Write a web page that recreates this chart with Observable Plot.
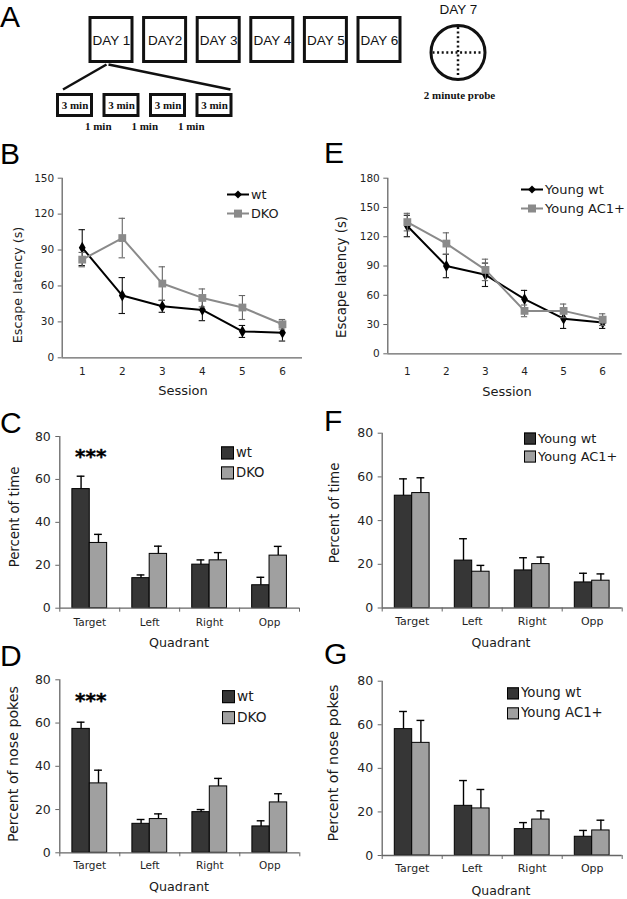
<!DOCTYPE html>
<html><head><meta charset="utf-8">
<script src="https://cdn.jsdelivr.net/npm/d3@7"></script>
<script src="https://cdn.jsdelivr.net/npm/@observablehq/plot@0.6"></script>
<style>
body{margin:0;background:#fff;}
#fig{position:relative;width:627px;height:899px;overflow:hidden;font-family:"DejaVu Sans",Verdana,sans-serif;color:#1a1a1a;background:#fff;}
.abs{position:absolute;white-space:nowrap;line-height:1;}
.letter{font-family:"Liberation Sans",Arial,sans-serif;font-size:30px;line-height:34px;color:#000;}
.ytitle{transform:translate(-50%,-50%) rotate(-90deg);}
.xtitle{transform:translate(-50%,-50%);}
.leg{display:flex;align-items:center;transform:translateY(-50%);}
</style></head><body><div id="fig"></div>
<script>
// ---------------- DATA ----------------
// Panel A (protocol schematic)
const dayLabels = ["DAY 1", "DAY2", "DAY 3", "DAY 4", "DAY 5", "DAY 6"];
const trialLabels = ["3 min", "3 min", "3 min", "3 min"];
const intervalLabels = ["1 min", "1 min", "1 min"];
const probeDayLabel = "DAY 7";
const probeLabel = "2 minute probe";

// Panels B / E (escape latency, s)
const sessions = [1, 2, 3, 4, 5, 6];
const latencyTicks = { B: [0, 30, 60, 90, 120, 150], E: [0, 30, 60, 90, 120, 150, 180] };
const wtLatency = [92, 52, 43, 40, 22, 21];
const wtLatencyErr = [15, 15, 5, 9, 5, 7];
const dkoLatency = [82, 100, 62, 50, 42, 28];
const dkoLatencyErr = [6, 16.5, 14, 7.5, 10, 4];
const youngWtLatency = [131, 90, 81, 56, 36, 32];
const youngWtLatencyErr = [11, 12, 12, 9, 10, 6];
const youngAc1Latency = [135, 113, 86, 44, 44, 35];
const youngAc1LatencyErr = [9, 11, 11, 6, 7, 6];

// Panels C / D / F / G (probe trial, %)
const quadrants = ["Target", "Left", "Right", "Opp"];
const percentTicks = [0, 20, 40, 60, 80];
const wtTime = [55.5, 14, 20.3, 10.7];
const wtTimeErr = [6, 1.5, 2.2, 3.7];
const dkoTime = [30.4, 25.3, 22.3, 24.5];
const dkoTimeErr = [4, 3.6, 3.6, 4.3];
const wtPokes = [57.3, 13.4, 18.8, 12.2];
const wtPokesErr = [3.1, 2, 1.2, 2.6];
const dkoPokes = [32.1, 15.6, 30.7, 23.3];
const dkoPokesErr = [6.1, 2.4, 3.7, 4];
const youngWtTime = [51.4, 21.7, 17.2, 11.7];
const youngWtTimeErr = [7.7, 10, 5.8, 4.2];
const youngAc1Time = [52.6, 16.6, 20.1, 12.5];
const youngAc1TimeErr = [7, 2.9, 3.2, 3.1];
const youngWtPokes = [58, 22.8, 12.1, 8.6];
const youngWtPokesErr = [8.1, 11.6, 3, 2.9];
const youngAc1Pokes = [51.7, 21.6, 16.5, 11.5];
const youngAc1PokesErr = [10.3, 8.7, 4, 4.7];
const significance = [{ quadrant: 0, y: 70.5, label: "***" }];

// ---------------- STYLE ----------------
const AXIS = "#666";
const TEXT = "#1f1f1f";
const DARK = "#363636";
const LIGHT = "#a0a0a0";
const GREYLINE = "#8a8a8a";

const fig = document.getElementById("fig");
function place(el, left, top) {
  el.style.position = "absolute";
  el.style.left = left + "px";
  el.style.top = top + "px";
  el.style.maxWidth = "none";
  fig.appendChild(el);
}
function addText(cls, text, x, y, css) {
  const d = document.createElement("div");
  d.className = "abs " + cls;
  d.textContent = text;
  d.style.left = x + "px";
  d.style.top = y + "px";
  Object.assign(d.style, css || {});
  fig.appendChild(d);
  return d;
}
function lineLegend(x, y, color, symbol, label, fs) {
  const d = document.createElement("div");
  d.className = "abs leg";
  d.style.left = x + "px"; d.style.top = y + "px"; d.style.fontSize = fs + "px";
  const ns = "http://www.w3.org/2000/svg";
  const s = document.createElementNS(ns, "svg");
  s.setAttribute("width", 22); s.setAttribute("height", 10);
  s.style.marginRight = "2px";
  const l = document.createElementNS(ns, "line");
  l.setAttribute("x1", 0); l.setAttribute("x2", 22); l.setAttribute("y1", 5); l.setAttribute("y2", 5);
  l.setAttribute("stroke", color); l.setAttribute("stroke-width", 2);
  s.appendChild(l);
  const m = document.createElementNS(ns, symbol === "diamond" ? "polygon" : "rect");
  if (symbol === "diamond") m.setAttribute("points", "11,1 15,5 11,9 7,5");
  else { m.setAttribute("x", 7); m.setAttribute("y", 1); m.setAttribute("width", 8); m.setAttribute("height", 8); }
  m.setAttribute("fill", color);
  s.appendChild(m);
  d.appendChild(s);
  d.appendChild(document.createTextNode(label));
  fig.appendChild(d);
}
function barLegend(x, y, fill, label, fs, size) {
  const d = document.createElement("div");
  d.className = "abs leg";
  d.style.left = x + "px"; d.style.top = y + "px"; d.style.fontSize = fs + "px";
  const sw = document.createElement("span");
  sw.style.cssText = `display:inline-block;width:${size}px;height:${size}px;box-sizing:border-box;border:1px solid #000;background:${fill};margin-right:2px;`;
  d.appendChild(sw);
  d.appendChild(document.createTextNode(label));
  fig.appendChild(d);
}

// ---------------- PANEL A ----------------
(function () {
  const dayCx = i => 111 + i * 53.6;
  const trialCx = j => 74.5 + j * 46.5;
  const days = dayLabels.map((t, i) => ({ t, cx: dayCx(i) }));
  const trials = trialLabels.map((t, j) => ({ t, cx: trialCx(j) }));
  const gaps = intervalLabels.map((t, j) => ({ t, cx: (trialCx(j) + trialCx(j + 1)) / 2 }));
  const probe = [{ cx: 457.5, cy: 52 }];
  const fans = [
    { x1: dayCx(0) - 5, y1: 64, x2: trialCx(0) - 12, y2: 89 },
    { x1: dayCx(0) - 3, y1: 64, x2: trialCx(3) + 16, y2: 89 }
  ];
  const el = Plot.plot({
    width: 627, height: 140, margin: 0,
    x: { domain: [0, 627], range: [0, 627], axis: null },
    y: { domain: [0, 140], range: [0, 140], axis: null },
    style: { background: "transparent", overflow: "visible" },
    marks: [
      Plot.rect(days, { x1: d => d.cx - 21, x2: d => d.cx + 21, y1: () => 17.5, y2: () => 61.5, fill: "white", stroke: "#111", strokeWidth: 3 }),
      Plot.text(days, { x: "cx", y: () => 40, text: "t", fontSize: 13.5, fontFamily: "Liberation Sans, Arial, sans-serif", fill: "#111" }),
      Plot.link(fans, { x1: "x1", y1: "y1", x2: "x2", y2: "y2", stroke: "#111", strokeWidth: 2.5 }),
      Plot.rect(trials, { x1: d => d.cx - 17, x2: d => d.cx + 17, y1: () => 94.5, y2: () => 115.5, fill: "white", stroke: "#111", strokeWidth: 3 }),
      Plot.text(trials, { x: "cx", y: () => 105, text: "t", fontSize: 11, fontWeight: "bold", fontFamily: "Liberation Serif, Times New Roman, serif", fill: "#111" }),
      Plot.text(gaps, { x: "cx", y: () => 126, text: "t", fontSize: 11, fontWeight: "bold", fontFamily: "Liberation Serif, Times New Roman, serif", fill: "#111" }),
      Plot.dot(probe, { x: "cx", y: "cy", r: 27, stroke: "#111", strokeWidth: 3, fill: "white" }),
      Plot.ruleY(probe, { y: "cy", x1: d => d.cx - 25, x2: d => d.cx + 25, stroke: "#111", strokeWidth: 2.5, strokeDasharray: "2,2.6" }),
      Plot.ruleX(probe, { x: "cx", y1: d => d.cy - 25, y2: d => d.cy + 25, stroke: "#111", strokeWidth: 2.5, strokeDasharray: "2,2.6" }),
      Plot.text([probeDayLabel], { x: () => 458, y: () => 9, fontSize: 13.5, fontFamily: "Liberation Sans, Arial, sans-serif", fill: "#111" }),
      Plot.text([probeLabel], { x: () => 459, y: () => 95, fontSize: 11, fontWeight: "bold", fontFamily: "Liberation Serif, Times New Roman, serif", fill: "#111" })
    ]
  });
  place(el, 0, 0);
})();

// ---------------- LINE PANELS ----------------
function linePanel(o) {
  const marks = [];
  const cap = 0.08;
  o.series.forEach(s => {
    const d = sessions.map((x, i) => ({ x, y: s.values[i], e: s.errs[i] }));
    marks.push(Plot.ruleX(d, { x: "x", y1: r => r.y - r.e, y2: r => r.y + r.e, stroke: s.err, strokeWidth: 1.1 }));
    marks.push(Plot.ruleY(d, { y: r => r.y - r.e, x1: r => r.x - cap, x2: r => r.x + cap, stroke: s.err, strokeWidth: 1.1 }));
    marks.push(Plot.ruleY(d, { y: r => r.y + r.e, x1: r => r.x - cap, x2: r => r.x + cap, stroke: s.err, strokeWidth: 1.1 }));
    marks.push(Plot.line(d, { x: "x", y: "y", stroke: s.color, strokeWidth: 2 }));
    marks.push(Plot.dot(d, { x: "x", y: "y", symbol: s.symbol, fill: s.color, stroke: "none", r: s.r }));
  });
  marks.push(Plot.ruleX([0.5], { stroke: AXIS, strokeWidth: 1.3 }));
  marks.push(Plot.ruleY([0], { stroke: AXIS, strokeWidth: 1.3 }));
  marks.push(Plot.axisY(o.yTicks, { tickSize: 4, tickPadding: 4, fontSize: o.tickFs, stroke: AXIS, color: TEXT, label: null }));
  marks.push(Plot.axisX(sessions, { tickSize: 0, tickPadding: o.xPad, fontSize: o.tickFs, color: TEXT, label: null }));
  const el = Plot.plot({
    width: o.width, height: o.height,
    marginLeft: o.ml, marginRight: o.mr, marginTop: o.mt, marginBottom: o.mb,
    x: { type: "linear", domain: [0.5, 6.5] },
    y: { type: "linear", domain: [0, o.yMax] },
    style: { background: "transparent", overflow: "visible", fontFamily: "DejaVu Sans, Verdana, sans-serif" },
    marks
  });
  place(el, o.left, o.top);
}

linePanel({
  left: 0, top: 140, width: 310, height: 260, ml: 61.7, mr: 8, mt: 37.7, mb: 42.7,
  yMax: 150, yTicks: latencyTicks.B, tickFs: 10.5, xPad: 10,
  series: [
    { values: wtLatency, errs: wtLatencyErr, color: "#000", err: "#111", symbol: "diamond", r: 3.6 },
    { values: dkoLatency, errs: dkoLatencyErr, color: GREYLINE, err: "#666", symbol: "square", r: 4.4 }
  ]
});
linePanel({
  left: 320, top: 140, width: 307, height: 260, ml: 67.3, mr: 5.3, mt: 37.7, mb: 46.7,
  yMax: 180, yTicks: latencyTicks.E, tickFs: 10.5, xPad: 14,
  series: [
    { values: youngWtLatency, errs: youngWtLatencyErr, color: "#000", err: "#111", symbol: "diamond", r: 3.6 },
    { values: youngAc1Latency, errs: youngAc1LatencyErr, color: GREYLINE, err: "#666", symbol: "square", r: 4.4 }
  ]
});

// ---------------- BAR PANELS ----------------
function barPanel(o) {
  const w = 0.29, cap = 0.065;
  const idx = quadrants.map((q, i) => i);
  const A = idx.map(i => ({ i, v: o.a[i], e: o.aErr[i] }));
  const B = idx.map(i => ({ i, v: o.b[i], e: o.bErr[i] }));
  const bounds = d3.range(-0.5, quadrants.length, 1);
  const marks = [
    Plot.rect(A, { x1: d => d.i - w, x2: "i", y1: () => 0, y2: "v", fill: DARK, stroke: "#000", strokeWidth: 1 }),
    Plot.rect(B, { x1: "i", x2: d => d.i + w, y1: () => 0, y2: "v", fill: LIGHT, stroke: "#000", strokeWidth: 1 }),
    Plot.ruleX(A, { x: d => d.i - w / 2, y1: "v", y2: d => d.v + d.e, stroke: "#000", strokeWidth: 1.4 }),
    Plot.ruleY(A, { y: d => d.v + d.e, x1: d => d.i - w / 2 - cap, x2: d => d.i - w / 2 + cap, stroke: "#000", strokeWidth: 1.4 }),
    Plot.ruleX(B, { x: d => d.i + w / 2, y1: "v", y2: d => d.v + d.e, stroke: "#000", strokeWidth: 1.4 }),
    Plot.ruleY(B, { y: d => d.v + d.e, x1: d => d.i + w / 2 - cap, x2: d => d.i + w / 2 + cap, stroke: "#000", strokeWidth: 1.4 }),
    Plot.ruleX([-0.5], { stroke: AXIS, strokeWidth: 1.3 }),
    Plot.ruleY([0], { stroke: AXIS, strokeWidth: 1.3 }),
    Plot.axisY(percentTicks, { tickSize: 4, tickPadding: 5, fontSize: o.yFs, stroke: AXIS, color: TEXT, label: null }),
    Plot.axisX(bounds, { tickSize: 4, tickFormat: () => "", stroke: AXIS, label: null }),
    Plot.axisX(idx, { tickSize: 0, tickPadding: o.xPad, tickFormat: i => quadrants[i], fontSize: o.xFs, color: TEXT, label: null })
  ];
  if (o.sig) marks.push(Plot.text(o.sig, { x: "quadrant", y: "y", text: "label", fontSize: 20, fontWeight: "bold", fill: "#000", stroke: "#000", strokeWidth: 0.4, dx: 1 }));
  const el = Plot.plot({
    width: o.width, height: o.height,
    marginLeft: o.ml, marginRight: o.mr, marginTop: o.mt, marginBottom: o.mb,
    x: { type: "linear", domain: [-0.5, quadrants.length - 0.5] },
    y: { type: "linear", domain: [0, 80] },
    style: { background: "transparent", overflow: "visible", fontFamily: "DejaVu Sans, Verdana, sans-serif" },
    marks
  });
  place(el, o.left, o.top);
}

barPanel({ left: 0, top: 400, width: 310, height: 255, ml: 59.3, mr: 11, mt: 36, mb: 47.3,
  a: wtTime, aErr: wtTimeErr, b: dkoTime, bErr: dkoTimeErr, yFs: 12.5, xFs: 10.5, xPad: 10, sig: significance });
barPanel({ left: 0, top: 655, width: 310, height: 244, ml: 59.3, mr: 10.7, mt: 24.3, mb: 46.7,
  a: wtPokes, aErr: wtPokesErr, b: dkoPokes, bErr: dkoPokesErr, yFs: 12.5, xFs: 10.5, xPad: 9, sig: significance });
barPanel({ left: 320, top: 400, width: 307, height: 255, ml: 61.7, mr: 5.3, mt: 32.7, mb: 47.5,
  a: youngWtTime, aErr: youngWtTimeErr, b: youngAc1Time, bErr: youngAc1TimeErr, yFs: 12.5, xFs: 11, xPad: 9 });
barPanel({ left: 320, top: 655, width: 307, height: 244, ml: 61.7, mr: 5.3, mt: 25.7, mb: 44,
  a: youngWtPokes, aErr: youngWtPokesErr, b: youngAc1Pokes, bErr: youngAc1PokesErr, yFs: 12.5, xFs: 11, xPad: 9 });

// ---------------- TITLES, LEGENDS, LETTERS ----------------
addText("letter", "A", 0, 0);
addText("letter", "B", 0, 137);
addText("letter", "E", 324, 136);
addText("letter", "C", 0, 406);
addText("letter", "F", 324, 404);
addText("letter", "D", 0, 639);
addText("letter", "G", 324, 637);

addText("ytitle", "Escape latency (s)", 18, 285, { fontSize: "12.7px" });
addText("ytitle", "Escape latency (s)", 341.7, 276.7, { fontSize: "13.3px" });
addText("ytitle", "Percent of time", 15, 516.7, { fontSize: "13.2px" });
addText("ytitle", "Percent of time", 335, 513, { fontSize: "13.2px" });
addText("ytitle", "Percent of nose pokes", 13.3, 764, { fontSize: "14.2px" });
addText("ytitle", "Percent of nose pokes", 333, 763, { fontSize: "14.3px" });

addText("xtitle", "Session", 183, 390, { fontSize: "13px" });
addText("xtitle", "Session", 507, 390.7, { fontSize: "13px" });
addText("xtitle", "Quadrant", 179, 643.3, { fontSize: "12.7px" });
addText("xtitle", "Quadrant", 501, 643.3, { fontSize: "12.5px" });
addText("xtitle", "Quadrant", 179, 887.3, { fontSize: "12.7px" });
addText("xtitle", "Quadrant", 501, 891, { fontSize: "12.5px" });

lineLegend(227, 195, "#000", "diamond", "wt", 12.8);
lineLegend(227, 214, GREYLINE, "square", "DKO", 12.8);
lineLegend(521, 189, "#000", "diamond", "Young wt", 13);
lineLegend(521, 208, GREYLINE, "square", "Young AC1+", 13);

barLegend(221, 452.5, DARK, "wt", 13.2, 13);
barLegend(221, 472.5, LIGHT, "DKO", 13.2, 13);
barLegend(524, 438.5, DARK, "Young wt", 12.9, 12);
barLegend(524, 457, LIGHT, "Young AC1+", 12.9, 12);
barLegend(222, 697, DARK, "wt", 13.7, 13);
barLegend(222, 717.5, LIGHT, "DKO", 13.7, 13);
barLegend(507, 693, DARK, "Young wt", 13.3, 12);
barLegend(507, 713, LIGHT, "Young AC1+", 13.3, 12);
</script></body></html>
